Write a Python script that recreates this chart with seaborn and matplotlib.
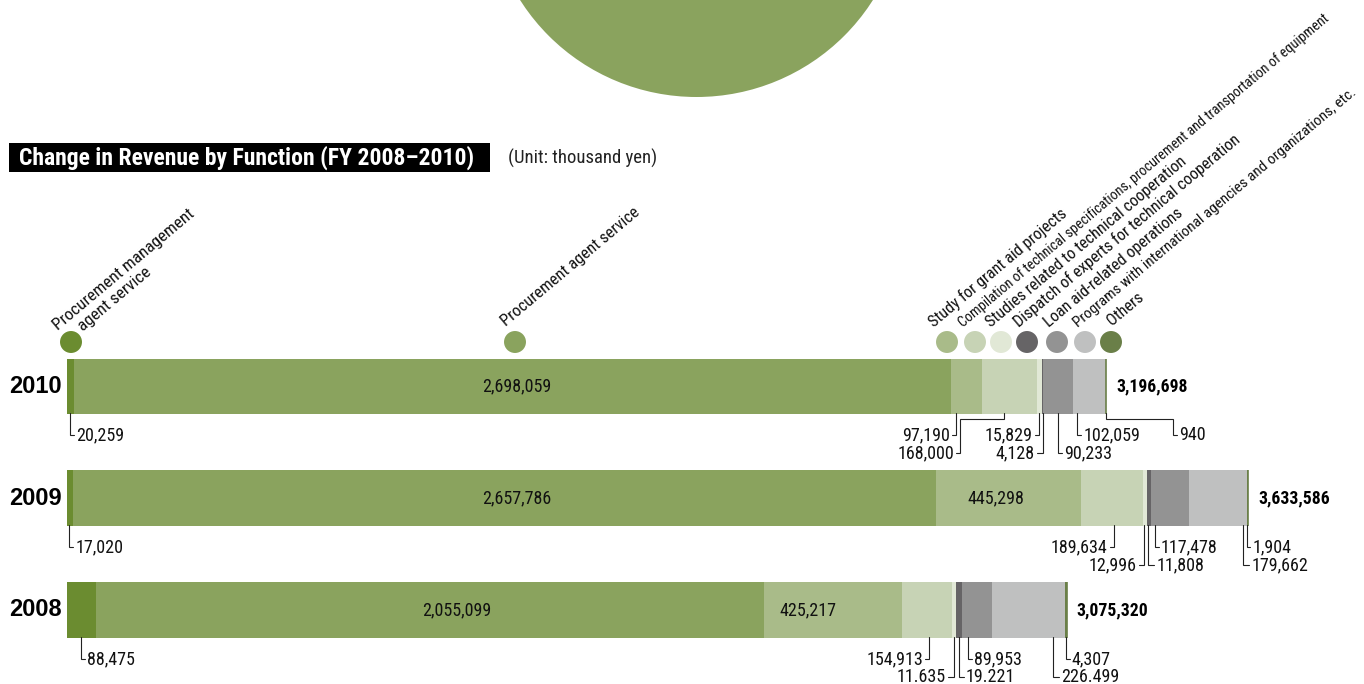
import matplotlib
matplotlib.use("Agg")
import matplotlib.pyplot as plt
import matplotlib.patches as mpatches
import numpy as np
import pandas as pd
import seaborn as sns

# ---------------------------------------------------------------- data
YEARS = ["2010", "2009", "2008"]
FUNCTIONS = [
    "Procurement management\nagent service",
    "Procurement agent service",
    "Study for grant aid projects",
    "Compilation of technical specifications, procurement and transportation of equipment",
    "Studies related to technical cooperation",
    "Dispatch of experts for technical cooperation",
    "Loan aid-related operations",
    "Programs with international agencies and organizations, etc.",
    "Others",
]
REV_2010 = [20259, 2698059, 97190, 168000, 15829, 4128, 90233, 102059, 940]
REV_2009 = [17020, 2657786, 445298, 189634, 12996, 11808, 117478, 179662, 1904]
REV_2008 = [88475, 2055099, 425217, 154913, 11635, 19221, 89953, 226499, 4307]
TOTALS = [3196698, 3633586, 3075320]
# 2008 labels as printed in the source (some use a period)
LABELS_2008 = ["88,475", "2,055,099", "425,217", "154,913", "11.635",
               "19.221", "89,953", "226.499", "4,307"]

COLORS = ["#6b8c30", "#8aa35e", "#a9bb89", "#c7d3b5", "#e1e8d6",
          "#666466", "#939393", "#bfc0c0", "#6a7f48"]

# ---------------------------------------------------------------- layout
W, H = 1364, 684
X0 = 67                      # pixel x of zero
PPU = 1181 / 3633586         # pixels per thousand yen
Y_ROW0 = 386.5               # pixel y of first bar centre
PX_ROW = 111.75              # pixels between bars
BAR_W = 0.5

def dx(p):
    return (p - X0) / PPU

def dy(p):
    return (p - Y_ROW0) / PX_ROW

# legend dots above the bars (pixel x) and label starts
DOT_X = [71, 515, 947, 975, 1001, 1027, 1057, 1085, 1111]
DOT_Y = 342
LABEL_START = [(58, 331), (506, 327), (934, 328), (963, 328), (991, 328),
               (1019, 328), (1049, 328), (1078, 328), (1112, 326)]
LABEL_SIZE = [12.3, 12, 11.8, 10.3, 11.8, 11.8, 11.8, 11, 11.8]

# labels inside bars: (year, segment, x shift px)
INSIDE = [(0, 1, 5), (1, 1, 12), (1, 2, -13), (2, 1, 27), (2, 2, -25)]

# leader labels: (year, segment, attach fraction, row, side, leg px, elbow px)
LEADERS = [
    (0, 0, 0.4, 1, "r", 4, 0), (0, 2, 0.17, 1, "l", 4, 0),
    (0, 3, 0.4, 2, "l", 4, -44), (0, 4, 0.35, 1, "l", 4, 0),
    (0, 5, 0.5, 2, "l", 6, 0), (0, 6, 0.5, 2, "r", 4, 0),
    (0, 7, 0.14, 1, "r", 4, 0), (0, 8, 0.5, 1, "r", 4, 67),
    (1, 0, 0.4, 1, "r", 4, 0), (1, 3, 0.53, 1, "l", 4, 0),
    (1, 4, 0.3, 2, "l", 5, 0), (1, 5, 0.3, 2, "r", 6, 0),
    (1, 6, 0.11, 1, "r", 4, 0), (1, 7, 0.93, 2, "r", 6, 0),
    (1, 8, 0.0, 1, "r", 3, 0),
    (2, 0, 0.5, 1, "r", 4, 0), (2, 3, 0.54, 1, "l", 4, 0),
    (2, 4, 0.5, 2, "l", 6, 0), (2, 5, 0.4, 2, "r", 5, 0),
    (2, 6, 0.21, 1, "r", 4, 0), (2, 7, 0.83, 2, "r", 6, 0),
    (2, 8, 0.5, 1, "r", 4, 0),
]

sns.set_theme(style="white")
plt.rcParams["font.family"] = ["Roboto Condensed", "Liberation Sans", "DejaVu Sans"]

rev = np.array([REV_2010, REV_2009, REV_2008], dtype=float)
cum = np.cumsum(rev, axis=1)
labels = [[f"{v:,}" for v in REV_2010], [f"{v:,}" for v in REV_2009], LABELS_2008]

fig = plt.figure(figsize=(W / 100, H / 100), dpi=100)
ax = fig.add_axes([0, 0, 1, 1])

# stacked bars: draw cumulative totals from the outermost segment inwards
for k in range(len(FUNCTIONS) - 1, -1, -1):
    d = pd.DataFrame({"year": YEARS, "value": cum[:, k]})
    sns.barplot(data=d, x="value", y="year", order=YEARS, orient="h",
                color=COLORS[k], saturation=1, width=BAR_W, errorbar=None,
                linewidth=0, ax=ax)
# the "Others" slivers are thinner than a pixel: mark them with a hairline
ax.vlines(cum[:, -1], np.arange(3) - BAR_W / 2, np.arange(3) + BAR_W / 2,
          color=COLORS[-1], lw=1.2)

ax.set_xlim(dx(0), dx(W))
ax.set_ylim(dy(H), dy(0))
ax.set_axis_off()

# big circle cut at the top, title box
ax.add_patch(mpatches.Circle((6.965, 7.96), 2.09, transform=fig.dpi_scale_trans,
                             color="#8aa35e", lw=0))
ax.add_patch(mpatches.Rectangle((0.09, (H - 172) / 100), 4.81, 0.29,
                                transform=fig.dpi_scale_trans, color="black", lw=0))
ax.text(dx(19), dy(158), "Change in Revenue by Function (FY 2008\u20132010)",
        color="white", fontsize=17, fontweight="bold", va="center", ha="left")
ax.text(dx(508), dy(158), "(Unit: thousand yen)", color="#222222",
        fontsize=13.5, va="center", ha="left")

# legend dots and rotated names
ax.scatter([dx(p) for p in DOT_X], [dy(DOT_Y)] * len(DOT_X), s=250,
           c=COLORS, linewidths=0, zorder=3, clip_on=False)
ang = np.deg2rad(40)
for name, (sx, sy), size in zip(FUNCTIONS, LABEL_START, LABEL_SIZE):
    lines = name.split("\n")
    for j, line in enumerate(lines):
        ox = sx + j * (17 * np.sin(ang) + 19 * np.cos(ang))
        oy = sy + j * (17 * np.cos(ang) - 19 * np.sin(ang))
        ax.text(dx(ox), dy(oy), line, rotation=40, rotation_mode="anchor",
                ha="left", va="baseline", fontsize=size, color="#111111")

# year names and totals
for i, y in enumerate(YEARS):
    ax.text(dx(62), i, y, ha="right", va="center", fontsize=17, color="black",
            fontweight="bold", family=["Liberation Sans", "DejaVu Sans"])
    ax.text(cum[i, -1] + dx(77), i, f"{TOTALS[i]:,}", ha="left", va="center",
            fontsize=12.7, fontweight="bold", color="black")

for i, k, shift in INSIDE:
    xc = (cum[i, k] - rev[i, k] / 2) + shift / PPU
    ax.text(xc, i, labels[i][k], ha="center", va="center", fontsize=13,
            color="#111111")

# leader lines
bottom_px = [Y_ROW0 + i * PX_ROW + BAR_W * PX_ROW / 2 for i in range(3)]
for i, k, frac, row, side, leg, elbow in LEADERS:
    ax_px = X0 + (cum[i, k] - rev[i, k] * (1 - frac)) * PPU
    b = bottom_px[i]
    ty = b + (21 if row == 1 else 39)
    if elbow:
        ex = ax_px + elbow
        xs = [ax_px, ax_px, ex, ex]
        ys = [b - 1, b + 5, b + 5, ty]
    else:
        ex = ax_px
        xs = [ax_px, ax_px]
        ys = [b - 1, ty]
    sgn = 1 if side == "r" else -1
    xs.append(ex + sgn * leg)
    ys.append(ty)
    ax.plot([dx(p) for p in xs], [dy(p) for p in ys], color="#222222",
            lw=0.8, solid_joinstyle="miter", clip_on=False)
    ax.text(dx(ex + sgn * (leg + 2)), dy(ty), labels[i][k],
            ha="left" if side == "r" else "right", va="center",
            fontsize=13, color="#111111")

fig.savefig("out.png", dpi=100)
